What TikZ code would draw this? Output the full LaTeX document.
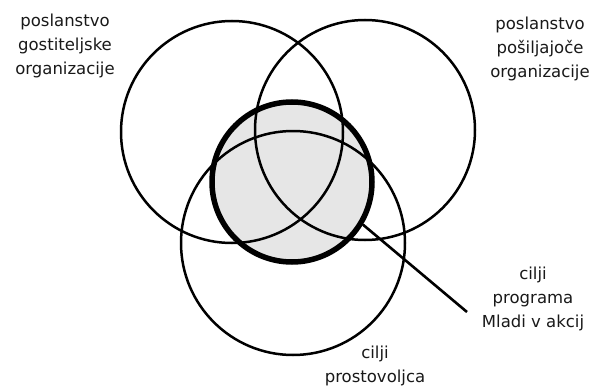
\documentclass[tikz,border=0pt]{standalone}
\usepackage{fontspec}
\setmainfont{DejaVu Sans}
\usetikzlibrary{positioning}
\definecolor{coreGrey}{HTML}{E6E6E6}
\tikzset{
  venn/.style     = {circle, draw=black, line width=2.5pt, inner sep=0pt},
  corefill/.style = {circle, fill=coreGrey, draw=none, inner sep=0pt},
  coreline/.style = {circle, draw=black, line width=5.5pt, inner sep=0pt},
  pointer/.style  = {black, line width=2.6pt},
  lbl/.style      = {align=center, font=\fontsize{16.5}{24}\selectfont, text=black!90},
}
\begin{document}
\begin{tikzpicture}[x=1pt, y=-1pt]
\useasboundingbox (0,0) rectangle (595,388);
% grey goals area first, so the thin circles run over it
\node[corefill, minimum size=160pt] (corebg) at (292,182) {};
% the three thin circles
\node[venn, minimum size=222pt] (host) at (232,132) {};
\node[venn, minimum size=220pt] (send) at (365,130) {};
\node[venn, minimum size=224pt] (vol)  at (293,243) {};
% thick circle: goals of the programme
\node[coreline, minimum size=160pt] (core) at (292,182) {};
\coordinate (tip) at (467,312);
\draw[pointer] (core.-31) -- (tip);
% labels
\node[lbl] (hostlbl) at (65,46) {poslanstvo\\gostiteljske\\organizacije};
\node[lbl] (sendlbl) at (540,49) {poslanstvo\\pošiljajoče\\organizacije};
\node[lbl] (corelbl) at (533,299) {cilji\\programa\\Mladi v akcij};
\node[lbl] (vollbl)  at (375,366) {cilji\\prostovoljca};
\end{tikzpicture}
\end{document}
